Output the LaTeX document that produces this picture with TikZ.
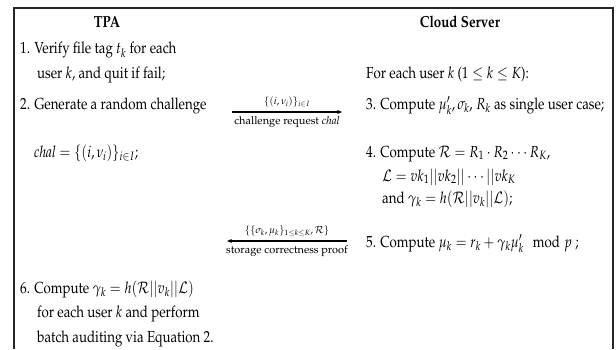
\documentclass[tikz,border=0pt]{standalone}
\usepackage[T1]{fontenc}
\usepackage{mathpazo}
\usepackage{amsmath}
\usepackage{amssymb}
\usepackage{tikz}
\usetikzlibrary{arrows.meta, positioning}

\newcommand{\nar}[1]{\scalebox{0.83}[1]{#1}}

\begin{document}
\begin{tikzpicture}[
            x=1pt, y=1pt,
            txt/.style={inner sep=0pt, anchor=base west, font=\fontsize{16}{19}\selectfont},
            head/.style={inner sep=0pt, anchor=base, font=\fontsize{16}{19}\selectfont\bfseries},
            arrow/.style={-{Stealth[length=5pt, width=4pt]}, line width=1.1pt},
            lab/.style={font=\fontsize{11}{13}\selectfont, inner sep=4pt},
            sublab/.style={font=\fontsize{10}{12}\selectfont, inner sep=4pt}
        ]
            \useasboundingbox (0,0) rectangle (616,349);
            % frame
            \draw[line width=1.1pt, black!85] (14,0) -- (14,341) -- (613,341) -- (613,0);

            % TPA side
            \node[head] (tpa) at (107,321) {\nar{TPA}};
            \node[txt] (s1a) at (20,295) {\nar{1. Verify file tag $t_k$ for each}};
            \node[txt, below=24pt of s1a.base west, anchor=base west, xshift=17pt] (s1b) {\nar{user $k$, and quit if fail;}};
            \node[txt, below=55pt of s1a.base west, anchor=base west] (s2a) {\nar{2. Generate a random challenge}};
            \node[txt, below=48pt of s2a.base west, anchor=base west, xshift=14pt] (s2b) {\nar{$\mathit{chal}=\{(i,\nu_i)\}_{i\in I}$;}};
            \node[txt] (s6a) at (20,56) {\nar{6. Compute $\gamma_k=h(\mathcal{R}||v_k||\mathcal{L})$}};
            \node[txt, below=24pt of s6a.base west, anchor=base west, xshift=17pt] (s6b) {\nar{for each user $k$ and perform}};
            \node[txt, below=25pt of s6b.base west, anchor=base west] (s6c) {\nar{batch auditing via Equation 2.}};

            % Cloud Server side
            \node[head] (cs) at (460,321) {\nar{Cloud Server}};
            \node[txt] (each) at (366,271) {\nar{For each user $k$ ($1\leq k\leq K$):}};
            \node[txt, below=31pt of each.base west, anchor=base west] (s3) {\nar{3. Compute $\mu'_k,\sigma_k$, $R_k$ as single user case;}};
            \node[txt, below=48pt of s3.base west, anchor=base west] (s4a) {\nar{4. Compute $\mathcal{R}=R_1\cdot R_2\cdots R_K$,}};
            \node[txt, below=24pt of s4a.base west, anchor=base west, xshift=16pt] (s4b) {\nar{$\mathcal{L}=vk_1||vk_2||\cdots||vk_K$}};
            \node[txt, below=22pt of s4b.base west, anchor=base west] (s4c) {\nar{and $\gamma_k=h(\mathcal{R}||v_k||\mathcal{L})$;}};
            \node[txt, below=44pt of s4a.base west, anchor=base west, yshift=-46pt] (s5) {\nar{5. Compute $\mu_k=r_k+\gamma_k\mu'_k \mod p$ ;}};

            % messages
            \coordinate (reqL) at (232,237);
            \coordinate (reqR) at (342,237);
            \coordinate (prfL) at (227,108);
            \coordinate (prfR) at (347,108);
            \draw[arrow] (reqL) -- node[above, sublab] (chalset) {$\{(i,\nu_i)\}_{i\in I}$}
                node[below, lab] (reqtxt) {challenge request $\mathit{chal}$} (reqR);
            \draw[arrow] (prfR) -- node[above, sublab] (prfset) {$\{\{\sigma_k,\mu_k\}_{1\leq k\leq K},\mathcal{R}\}$}
                node[below, lab] (prftxt) {storage correctness proof} (prfL);
        \end{tikzpicture}
\end{document}
